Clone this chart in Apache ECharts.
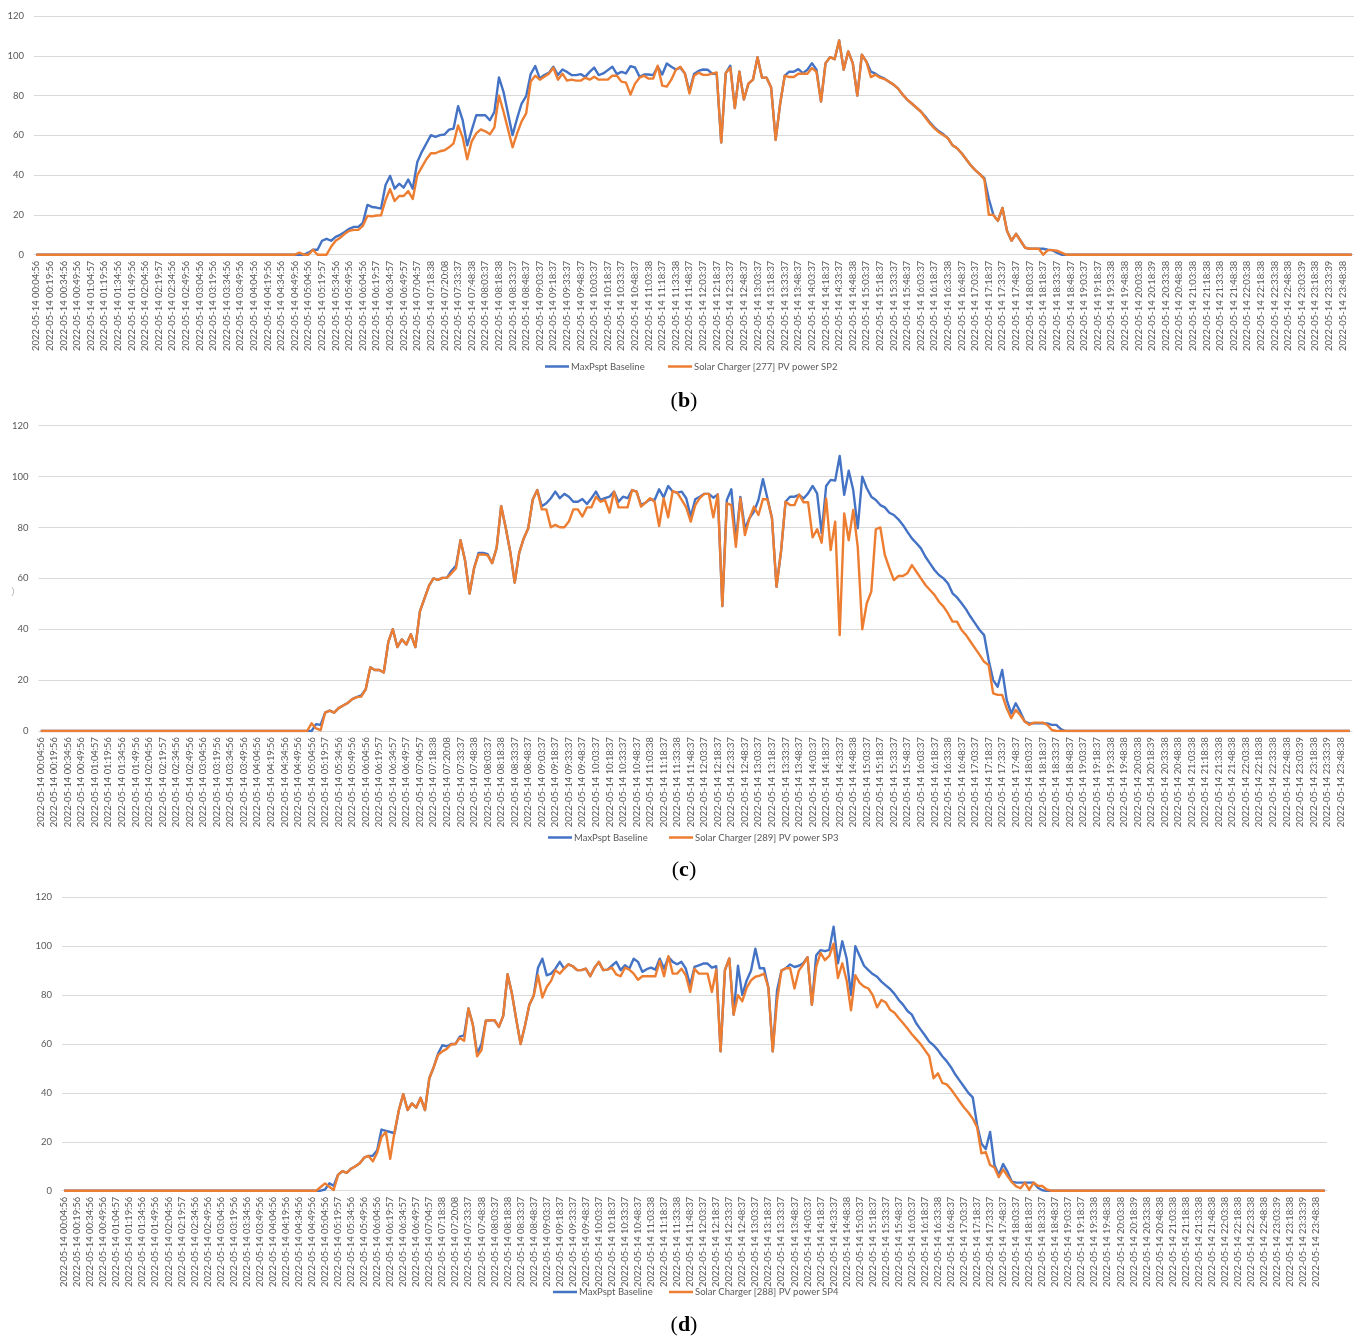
<!DOCTYPE html>
<html>
<head>
<meta charset="utf-8">
<script src="https://cdn.jsdelivr.net/npm/echarts@6/dist/echarts.min.js"></script>
<style>
html,body{margin:0;padding:0;background:#fff;}
#chart{width:1354px;height:1338px;}
</style>
</head>
<body>
<div id="chart"></div>
<script>
// ---- tick labels (every third sample is labelled) ----
const tickLabels = [
'2022-05-14 00:04:56','2022-05-14 00:19:56','2022-05-14 00:34:56','2022-05-14 00:49:56','2022-05-14 01:04:57',
'2022-05-14 01:19:56','2022-05-14 01:34:56','2022-05-14 01:49:56','2022-05-14 02:04:56','2022-05-14 02:19:57',
'2022-05-14 02:34:56','2022-05-14 02:49:56','2022-05-14 03:04:56','2022-05-14 03:19:56','2022-05-14 03:34:56',
'2022-05-14 03:49:56','2022-05-14 04:04:56','2022-05-14 04:19:56','2022-05-14 04:34:56','2022-05-14 04:49:56',
'2022-05-14 05:04:56','2022-05-14 05:19:57','2022-05-14 05:34:56','2022-05-14 05:49:56','2022-05-14 06:04:56',
'2022-05-14 06:19:57','2022-05-14 06:34:57','2022-05-14 06:49:57','2022-05-14 07:04:57','2022-05-14 07:18:38',
'2022-05-14 07:20:08','2022-05-14 07:33:37','2022-05-14 07:48:38','2022-05-14 08:03:37','2022-05-14 08:18:38',
'2022-05-14 08:33:37','2022-05-14 08:48:37','2022-05-14 09:03:37','2022-05-14 09:18:37','2022-05-14 09:33:37',
'2022-05-14 09:48:37','2022-05-14 10:03:37','2022-05-14 10:18:37','2022-05-14 10:33:37','2022-05-14 10:48:37',
'2022-05-14 11:03:38','2022-05-14 11:18:37','2022-05-14 11:33:38','2022-05-14 11:48:37','2022-05-14 12:03:37',
'2022-05-14 12:18:37','2022-05-14 12:33:37','2022-05-14 12:48:37','2022-05-14 13:03:37','2022-05-14 13:18:37',
'2022-05-14 13:33:37','2022-05-14 13:48:37','2022-05-14 14:03:37','2022-05-14 14:18:37','2022-05-14 14:33:37',
'2022-05-14 14:48:38','2022-05-14 15:03:37','2022-05-14 15:18:37','2022-05-14 15:33:37','2022-05-14 15:48:37',
'2022-05-14 16:03:37','2022-05-14 16:18:37','2022-05-14 16:33:38','2022-05-14 16:48:37','2022-05-14 17:03:37',
'2022-05-14 17:18:37','2022-05-14 17:33:37','2022-05-14 17:48:37','2022-05-14 18:03:37','2022-05-14 18:18:37',
'2022-05-14 18:33:37','2022-05-14 18:48:37','2022-05-14 19:03:37','2022-05-14 19:18:37','2022-05-14 19:33:38',
'2022-05-14 19:48:38','2022-05-14 20:03:38','2022-05-14 20:18:39','2022-05-14 20:33:38','2022-05-14 20:48:38',
'2022-05-14 21:03:38','2022-05-14 21:18:38','2022-05-14 21:33:38','2022-05-14 21:48:38','2022-05-14 22:03:38',
'2022-05-14 22:18:38','2022-05-14 22:33:38','2022-05-14 22:48:38','2022-05-14 23:03:39','2022-05-14 23:18:38',
'2022-05-14 23:33:39','2022-05-14 23:48:38'
];

const baselineName = 'MaxPspt Baseline';
const sp2Name = 'Solar Charger [277] PV power SP2';
const sp3Name = 'Solar Charger [289] PV power SP3';
const sp4Name = 'Solar Charger [288] PV power SP4';

// ---- panel (b) ----
const baselineB = [
0,0,0,0,0,0,0,0,0,
0,0,0,0,0,0,0,0,0,0,
0,0,0,0,0,0,0,0,0,0,
0,0,0,0,0,0,0,0,0,0,
0,0,0,0,0,0,0,0,0,0,
0,0,0,0,0,0,0,0,0,0,
0,1,2.5,2.5,7,8,7,9,10,11.4,
13,14,14,16,25,24,23.7,23.2,35,39.6,
33.2,35.7,33.7,37.8,33.2,46.6,51.7,55.9,60.1,59.2,
60.1,60.4,62.9,63.4,74.7,67.6,55,62.6,70.1,70.1,
70.1,67.6,71.8,89.1,81.9,71,60.1,68.5,76,79.7,
90.8,94.8,88.6,90.3,91.4,94.5,90.3,93.1,91.9,90.3,
90.3,90.8,89.4,91.9,94.1,90.3,91.1,92.8,94.5,90.8,
91.9,91.1,94.8,94.1,89.4,90.6,90.6,90.3,94.5,90.6,
96.1,94.5,93.1,94,91.1,82,90.8,92.4,93.1,93,
91,91,56.4,91.3,95,73.7,92,78,86,88,
99.3,89,89,84,57.7,76,90,92,92,93.3,
91.3,93,96.3,93,77,96.3,99.3,98.3,107.7,93,
102.2,96.3,80,100.5,97.1,92,91,89.5,88.5,87,
85.5,83.5,80.5,78,76,74,72,69.5,66.5,64,
62,60.5,58.5,55,53.5,51,48,45,42.5,40.5,
38.5,28,20,17,23.5,12,7,10.5,7,3.5,
3,3,3,3,2.5,2.3,1,0,0,0,
0,0,0,0,0,0,0,0,0,0,
0,0,0,0,0,0,0,0,0,0,
0,0,0,0,0,0,0,0,0,0,
0,0,0,0,0,0,0,0,0,0,
0,0,0,0,0,0,0,0,0,0,
0,0,0,0,0,0,0,0,0,0,
0,0
];
const sp2 = [
0,0,0,0,0,0,0,0,0,
0,0,0,0,0,0,0,0,0,0,
0,0,0,0,0,0,0,0,0,0,
0,0,0,0,0,0,0,0,0,0,
0,0,0,0,0,0,0,0,0,0,
0,0,0,0,0,0,0,0,0,1,
0,0,2.5,0,0,0,4,7,8.5,10.5,
12,12.5,12.5,14.5,19.5,19.3,19.7,19.8,27.5,33,
27,29.5,29.5,32,28,40,44,48,51,51,
52,52.5,54,56,65,59,48,57,61,63,
62,60.5,64,80,72,63,54,61,67,71,
87,90,88,89.5,91,94,88,91,87.5,88,
87.5,87.5,89,88,89.5,88,88,88,90,90,
87,86.5,80.5,86,89,90,88.5,88.5,95,85,
84.5,88,93,94.5,91,81,90,91.5,90.4,90.4,
91,91.6,56.4,91.3,94,73.7,92,78,86,88,
99.3,89,89,84,57.7,76,90,89.3,89.3,91,
91,91,93.8,92,77,96.3,99.3,98.3,107.7,93,
102.2,96.3,80,100.5,97.1,89.3,90.5,89,88.3,87,
85.5,83.5,80.5,78,76,74,72,69,66,63.5,
61.5,60,58.5,55,53.5,51,48,45,42.5,40.5,
38,20,20,17,23.5,12,7,10.5,7,3.5,
3,3,3,0,2.3,2.3,2,1,0,0,
0,0,0,0,0,0,0,0,0,0,
0,0,0,0,0,0,0,0,0,0,
0,0,0,0,0,0,0,0,0,0,
0,0,0,0,0,0,0,0,0,0,
0,0,0,0,0,0,0,0,0,0,
0,0,0,0,0,0,0,0,0,0,
0,0
];

// ---- panel (c) ----
const baselineC = [
0,0,0,0,0,0,0,0,0,0,
0,0,0,0,0,0,0,0,0,0,
0,0,0,0,0,0,0,0,0,0,
0,0,0,0,0,0,0,0,0,0,
0,0,0,0,0,0,0,0,0,0,
0,0,0,0,0,0,0,0,0,0,
0,2.7,2.4,7.2,8,7.2,9,10,11,12.5,
13.3,14,16.4,25,24,24,23,35,40,33,
36,34,38,33,47,52,57,60,59.4,60.2,
60.3,63,65,75,67,54,64,70,70,69.5,
66,72,88.4,80,70.5,58.3,70,75.7,79.7,91,
94.7,88.3,89.5,91.5,94.1,91.5,93.2,92.1,90.1,90.1,
91.2,89.2,91.5,94.1,90.8,91.5,92.1,94.1,90.1,92.1,
91.5,94.7,94.1,88.8,89.8,91.1,90.8,95,91.8,96.3,
94.1,93.7,94.1,91.5,84.3,91.1,92.1,93.2,93.2,91.7,
93,49.1,90.8,95,75,92,79.6,83.6,86.2,90.8,
99,91.4,83.6,56.7,70.5,90.1,92.1,92.1,92.8,91.4,
93.4,96.3,93.4,77.7,96.3,98.7,98.4,108.1,92.8,102.3,
94.7,79.7,100,95.4,92.1,90.8,88.8,87.9,85.8,84.9,
83.2,81,78.3,75.7,73.8,71.8,68.5,65.9,63.3,61.3,
60,58,54.1,52.5,50.2,47.8,44.9,42.3,39.7,37.7,
27.9,20,17.4,24,12.2,6.9,10.9,7.6,3.7,3,
3,3,3,3,2.4,2.4,0.7,0,0,0,
0,0,0,0,0,0,0,0,0,0,
0,0,0,0,0,0,0,0,0,0,
0,0,0,0,0,0,0,0,0,0,
0,0,0,0,0,0,0,0,0,0,
0,0,0,0,0,0,0,0,0,0,
0,0,0,0,0,0,0,0,0,0,
0
];
const sp3 = [
0,0,0,0,0,0,0,0,0,0,
0,0,0,0,0,0,0,0,0,0,
0,0,0,0,0,0,0,0,0,0,
0,0,0,0,0,0,0,0,0,0,
0,0,0,0,0,0,0,0,0,0,
0,0,0,0,0,0,0,0,0,0,
3,1,0.3,7.2,8,7.2,9,10,11,12.5,
13.3,13.5,16.4,25,24,24,23,35,40,33,
36,34,38,33,47,52,57,60,59.4,60.2,
60.3,62,64,75,67,54,64,69.4,69.4,69,
66,72,88.4,80,70.5,58.3,70,75.7,79.7,91,
94.7,87.1,87.1,80.1,81,80.1,80.1,82.3,87.1,87.1,
84.3,87.9,87.9,92.1,90.1,90.8,85.8,94.1,87.9,87.9,
87.9,94.7,94.1,88.2,89.8,91.5,90.1,80.6,91.5,84,
94.3,93.7,90.8,87.9,82.3,88.8,91.5,93.2,93.2,84,
93,49.1,89.5,88.8,72.4,91.4,77,83.6,88.2,84.9,
91.2,91,83.6,56.7,70.5,90.1,88.8,88.8,93,89.9,
89.9,76.1,79.3,74,91.4,71.1,82.3,37.7,85.5,75,
86.9,72.4,40,50.2,54.8,79.3,80,69.2,64,59.3,
60.9,60.9,62,65.2,62.6,60,57.4,55.4,53.5,50.8,
48.9,46.2,43,43,39.7,37.7,35.1,32.5,29.9,27.2,
25.9,14.8,14.2,14.2,8.9,5,8.3,6.3,3.7,2.4,
3.3,3.3,3.3,2.4,0.4,0,0,0,0,0,
0,0,0,0,0,0,0,0,0,0,
0,0,0,0,0,0,0,0,0,0,
0,0,0,0,0,0,0,0,0,0,
0,0,0,0,0,0,0,0,0,0,
0,0,0,0,0,0,0,0,0,0,
0,0,0,0,0,0,0,0,0,0,
0
];

// ---- panel (d) ----
const baselineD = [
0,0,0,0,0,0,0,0,0,0,
0,0,0,0,0,0,0,0,0,0,
0,0,0,0,0,0,0,0,0,0,
0,0,0,0,0,0,0,0,0,0,
0,0,0,0,0,0,0,0,0,0,
0,0,0,0,0,0,0,0,0,0,
0.5,3,2,6.5,8,7.3,9,10,11.2,13.5,
14.2,14.3,16.5,25,24.5,24,23.5,33,39.5,33,
35.7,34,38,33,46,50.5,56,59.5,59,60,
60,63,63.5,74.5,68,56,60,69.5,69.7,69.7,
67,71.5,88.5,80.6,70,60,67.5,76,79.7,91.2,
94.9,88.1,88.8,90.8,93.6,90.8,92.6,91.8,90.2,90.2,
90.8,87.7,91.2,93.6,90.2,90.4,92,93.6,90.2,92.2,
90.8,94.9,93.6,89.5,90.6,91.2,90.4,94.9,90.8,95.6,
93.6,92.6,93.6,90.8,84,91.5,92.2,92.9,92.9,91.2,
91.8,57,90.2,95,72,92,80,86,90,99,
91,91,83,57,82,90,91,92.5,91.5,92,
93,95.5,76,96.3,98.4,98,98.5,108,93,102,
95,80,100,96,92,90.2,88.6,87.5,85.5,84,
82.5,80.5,78,76,73.5,72,68.5,66,63.6,61,
59.5,57.5,55,53,50.5,47.5,45,42.5,40,38.2,
27,19.3,17,24,10.5,6.4,10.9,7.8,3.7,3.3,
3.3,3.3,3.3,3.3,1.2,0.2,0,0,0,0,
0,0,0,0,0,0,0,0,0,0,
0,0,0,0,0,0,0,0,0,0,
0,0,0,0,0,0,0,0,0,0,
0,0,0,0,0,0,0,0,0,0,
0,0,0,0,0,0,0,0,0,0,
0,0,0,0,0,0,0,0,0,0,
0
];
const sp4 = [
0,0,0,0,0,0,0,0,0,0,
0,0,0,0,0,0,0,0,0,0,
0,0,0,0,0,0,0,0,0,0,
0,0,0,0,0,0,0,0,0,0,
0,0,0,0,0,0,0,0,0,0,
0,0,0,0,0,0,0,0,0,1.5,
3,1.6,0.3,6.5,8,7.3,9,10,11.2,13.5,
14.2,12,15.5,22,24,13,24,33,39.5,33,
35.7,34,38,33,46,50.5,55.5,57,58,59.8,
60,62.5,61.3,74.5,68,55,57.5,69.5,69.7,69.7,
67,71.5,88.5,80.6,70,60,67.5,76,79.7,88.1,
79,83.3,85.8,90.2,88.8,90.8,92.6,91.8,90.2,90.2,
90.8,87.7,91.2,93.6,90.2,90.4,91.2,88.5,87.7,91.2,
90.4,88.8,86.3,87.7,87.7,87.7,87.7,94,87.7,95.9,
88.8,88.8,90.8,88.1,81.3,90.8,88.8,88.8,88.8,81.3,
90.4,57,90.2,95,72,80,77.5,83,86,87.5,
88,88.8,83,57,78,90,91,91,82.7,90,
92.5,95.5,76,91.6,97.3,94.3,96,101,87,93,
86,73.8,88.1,85,83.5,82.7,80,75,78,77,
74,72.8,70.5,68.5,66.3,64,62,60,57.5,55,
46,48,44.1,43.5,41.5,39,36.5,34,32,29.5,
26,15.3,15.8,10.5,9.5,5.5,8.7,6,3.5,1.8,
1,3.3,0.3,3.3,2,1.9,0.5,0,0,0,
0,0,0,0,0,0,0,0,0,0,
0,0,0,0,0,0,0,0,0,0,
0,0,0,0,0,0,0,0,0,0,
0,0,0,0,0,0,0,0,0,0,
0,0,0,0,0,0,0,0,0,0,
0,0,0,0,0,0,0,0,0,0,
0
];

// categories: each labelled timestamp followed by two unlabelled samples
const categories = [];
tickLabels.forEach(function (t) { categories.push(t, '', ''); });

const BLUE = '#4472C4';
const ORANGE = '#ED7D31';
const TXT = '#595959';
const GRIDC = '#d9d9d9';
const FONT = 'Lato, "Open Sans", sans-serif';

const panels = [
  { grid: {left: 34, top: 16, width: 1327, height: 238.7}, blue: baselineB, orange: sp2, oName: sp2Name,
    legTop: 361.5, blueLeft: 545, orangeLeft: 668, cap: 'b', capY: 401 },
  { grid: {left: 38.5, top: 425.7, width: 1313.5, height: 305.3}, blue: baselineC, orange: sp3, oName: sp3Name,
    legTop: 832.5, blueLeft: 548, orangeLeft: 669, cap: 'c', capY: 870 },
  { grid: {left: 62, top: 897.3, width: 1265, height: 293.4}, blue: baselineD, orange: sp4, oName: sp4Name,
    legTop: 1287, blueLeft: 553, orangeLeft: 669, cap: 'd', capY: 1325 }
];

const option = {
  animation: false,
  backgroundColor: '#ffffff',
  grid: [], xAxis: [], yAxis: [], series: [], legend: [], graphic: []
};

panels.forEach(function (p, k) {
  option.grid.push(Object.assign({containLabel: false}, p.grid));
  option.xAxis.push({
    type: 'category', gridIndex: k, data: categories, boundaryGap: true,
    axisLine: {show: true, lineStyle: {color: GRIDC, width: 1}},
    axisTick: {show: false},
    splitLine: {show: false},
    axisLabel: {interval: 2, rotate: 90, fontSize: 9.4, color: TXT, fontFamily: FONT, margin: 6}
  });
  option.yAxis.push({
    type: 'value', gridIndex: k, min: 0, max: 120, interval: 20,
    axisLine: {show: false}, axisTick: {show: false},
    splitLine: {show: true, lineStyle: {color: GRIDC, width: 1}},
    axisLabel: {fontSize: 9.5, color: TXT, fontFamily: FONT, margin: 10}
  });
  option.series.push({
    name: baselineName, type: 'line', xAxisIndex: k, yAxisIndex: k, data: p.blue,
    symbol: 'none', z: 2, lineStyle: {color: BLUE, width: 2.4, join: 'round'}, itemStyle: {color: BLUE}
  });
  option.series.push({
    name: p.oName, type: 'line', xAxisIndex: k, yAxisIndex: k, data: p.orange,
    symbol: 'none', z: 3, lineStyle: {color: ORANGE, width: 2.4, join: 'round'}, itemStyle: {color: ORANGE}
  });
  [[baselineName, p.blueLeft], [p.oName, p.orangeLeft]].forEach(function (it) {
    option.legend.push({
      data: [it[0]], left: it[1], top: p.legTop, icon: 'rect', itemWidth: 24, itemHeight: 2.5,
      selectedMode: false, padding: 0,
      textStyle: {fontSize: 9.5, color: TXT, fontFamily: FONT, padding: [0, 0, 0, -3]}
    });
  });
  option.graphic.push({
    type: 'text', x: 684, y: p.capY,
    style: {
      text: '{p|(}{b|' + p.cap + '}{p|)}',
      align: 'center', verticalAlign: 'middle',
      rich: {
        p: {fontFamily: '"Liberation Serif", serif', fontSize: 22, fill: '#000'},
        b: {fontFamily: '"Liberation Serif", serif', fontSize: 22, fontWeight: 'bold', fill: '#000'}
      }
    }
  });
});

option.graphic.push({
  type: 'text', x: 13, y: 592,
  style: {text: ')', fontSize: 9, fill: '#b0b0b0', align: 'center', verticalAlign: 'middle'}
});

const chart = echarts.init(document.getElementById('chart'), null, {renderer: 'canvas'});
chart.setOption(option);
</script>
</body>
</html>
